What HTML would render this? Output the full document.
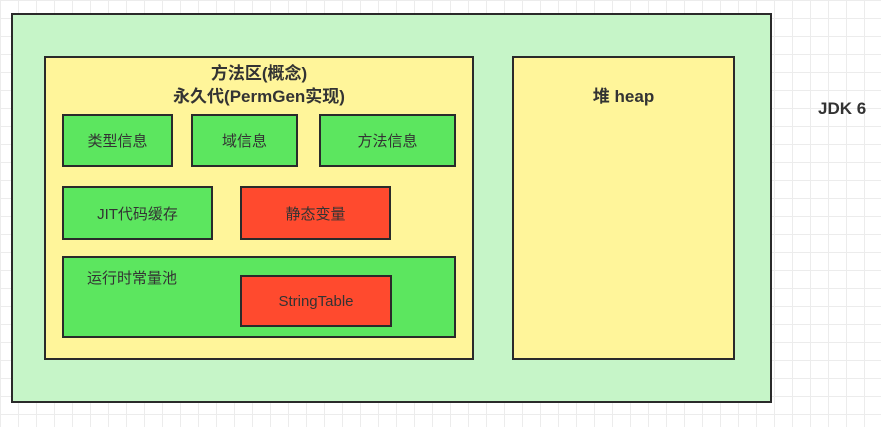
<!DOCTYPE html>
<html><head><meta charset="utf-8"><style>
html,body{margin:0;padding:0}
body{width:881px;height:427px;position:relative;overflow:hidden;background-color:#fff;
background-image:linear-gradient(#ececec 1px,transparent 1px),linear-gradient(90deg,#ececec 1px,transparent 1px);
background-size:18px 18px;font-family:"Liberation Sans","Noto Sans CJK SC",sans-serif;color:#333}
.b{position:absolute;box-sizing:border-box;border:2px solid #2a2a2a}
.g{background:#5ce65f}.r{background:#ff4a2e}.y{background:#fff59a}
.c{display:flex;align-items:center;justify-content:center;font-size:15px}
.t{position:absolute;font-weight:bold;color:#333;font-size:17px;text-align:center}
</style></head><body>
<div class="b" style="left:11px;top:13px;width:761px;height:390px;background:#c6f5c8"></div>
<div class="b y" style="left:44px;top:56px;width:430px;height:304px"></div>
<div class="t" style="left:44px;top:62px;width:430px;line-height:23px">方法区(概念)<br>永久代(PermGen实现)</div>
<div class="b g c" style="left:62px;top:114px;width:111px;height:53px">类型信息</div>
<div class="b g c" style="left:191px;top:114px;width:107px;height:53px">域信息</div>
<div class="b g c" style="left:319px;top:114px;width:137px;height:53px">方法信息</div>
<div class="b g c" style="left:62px;top:186px;width:151px;height:54px">JIT代码缓存</div>
<div class="b r c" style="left:240px;top:186px;width:151px;height:54px">静态变量</div>
<div class="b g" style="left:62px;top:256px;width:394px;height:82px"></div>
<div style="position:absolute;left:87px;top:267px;font-size:15px">运行时常量池</div>
<div class="b r c" style="left:240px;top:275px;width:152px;height:52px">StringTable</div>
<div class="b y" style="left:512px;top:56px;width:223px;height:304px"></div>
<div class="t" style="left:512px;top:82px;width:223px">堆 heap</div>
<div class="t" style="left:818px;top:99px">JDK 6</div>
</body></html>
